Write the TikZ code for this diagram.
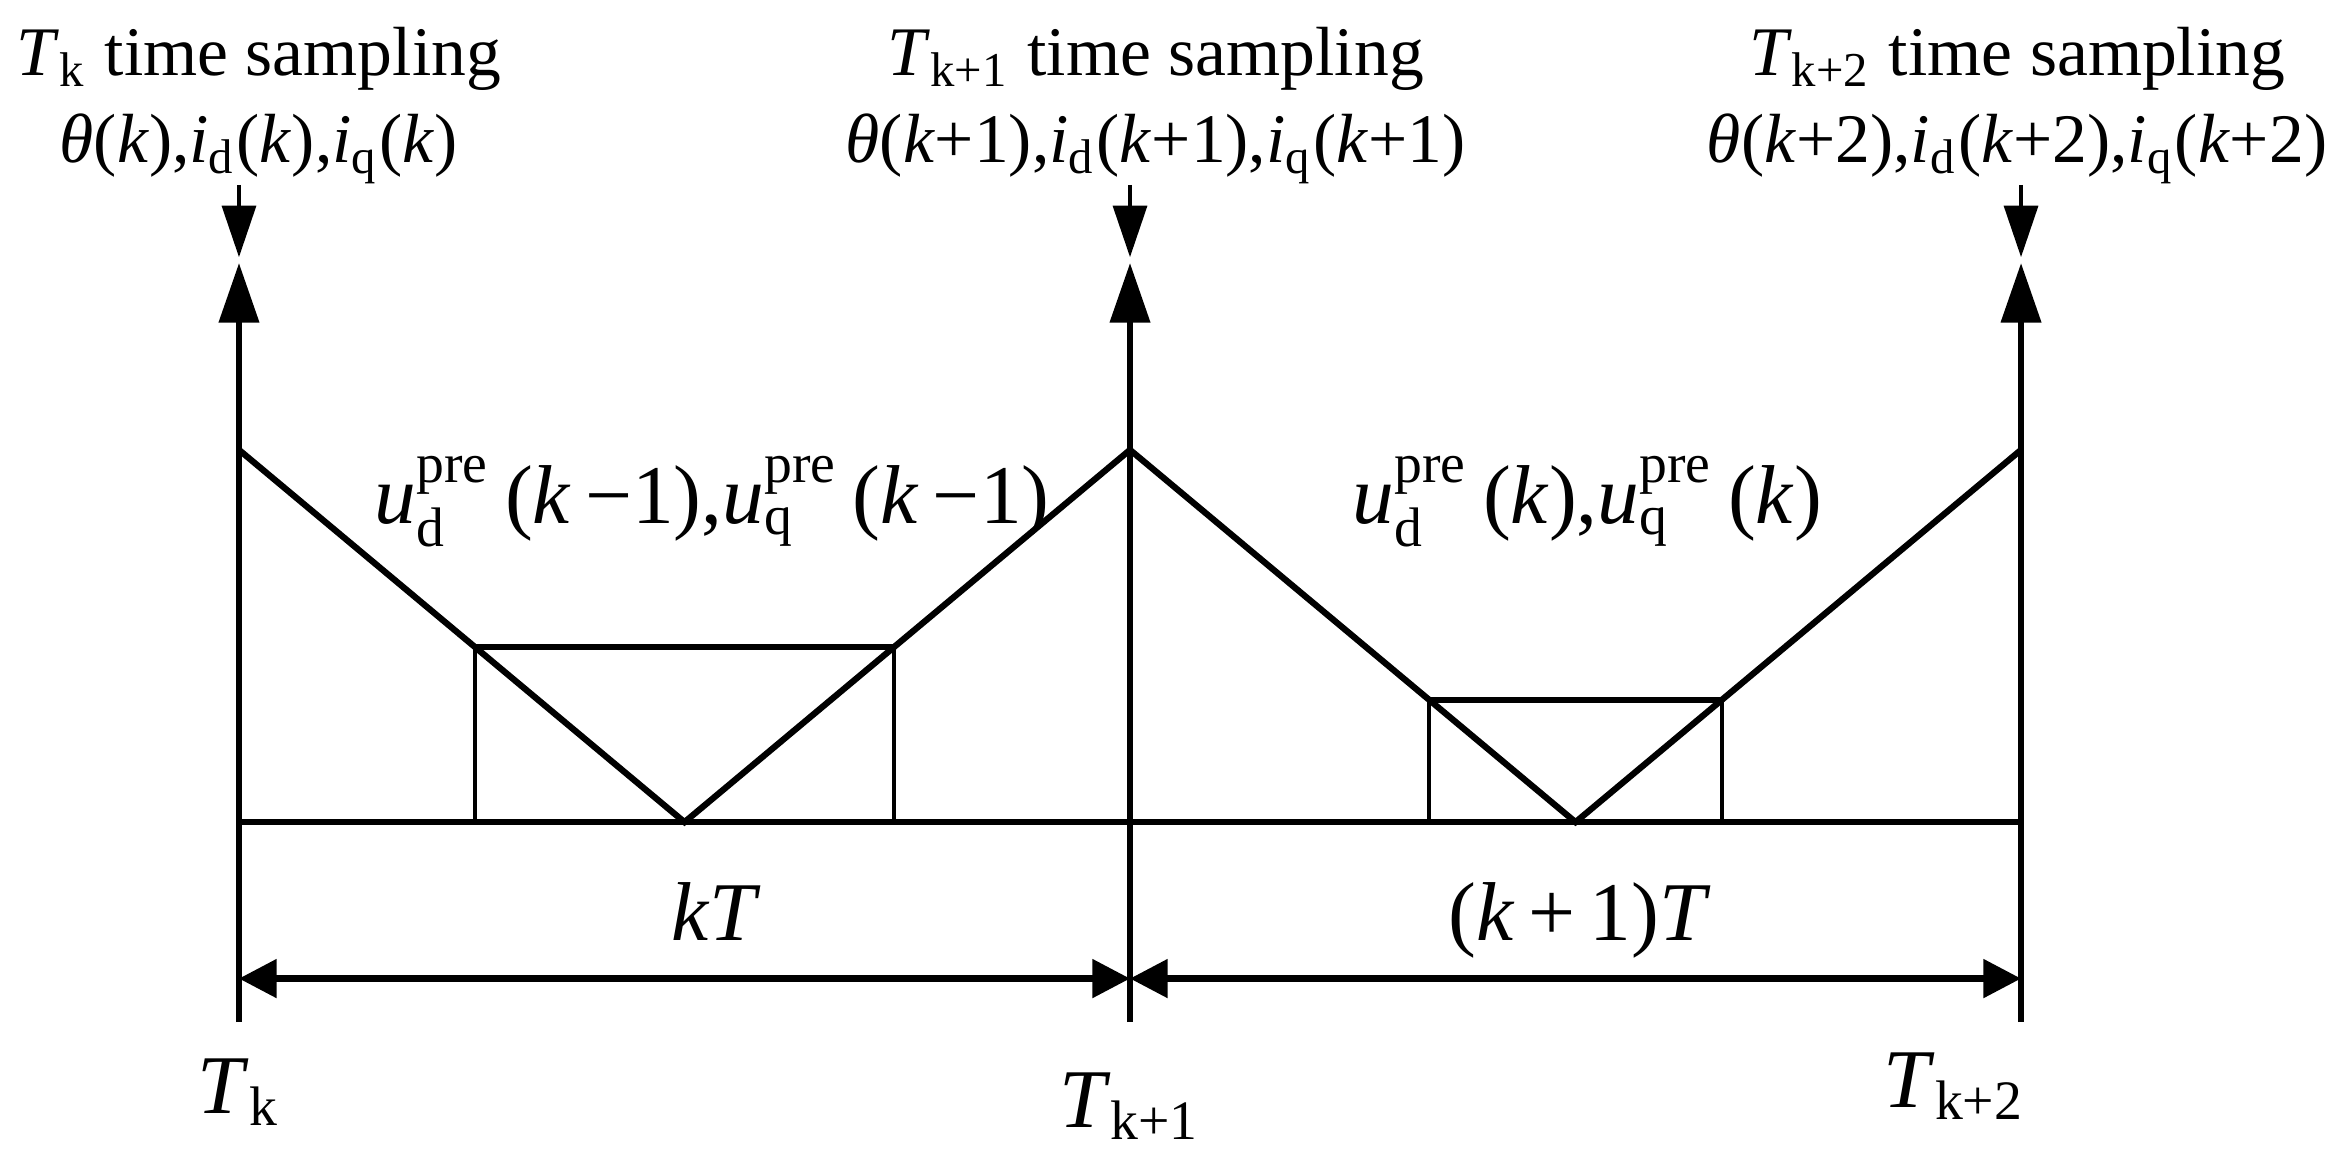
\documentclass[tikz,border=0pt]{standalone}
\usepackage{amsmath}
\usepackage{fontspec}
\setmainfont{Liberation Serif}
\usetikzlibrary{arrows.meta,calc}

\newcommand{\upre}[1]{$\text{\itshape u}_{\text{#1}}^{\text{pre}}$}

\begin{document}
\begin{tikzpicture}[
    ln/.style={line width=0.9pt},
    upline/.style={line width=0.75pt,-{Triangle[length=0.30cm,width=0.20cm]}},
    dnline/.style={line width=0.6pt,-{Triangle[length=0.26cm,width=0.17cm]}},
    dimline/.style={line width=0.9pt,{Triangle[length=0.19cm,width=0.19cm]}-{Triangle[length=0.19cm,width=0.19cm]}},
    toplbl/.style={font=\fontsize{10}{12}\selectfont,inner sep=0pt,anchor=base},
    lbl/.style={font=\fontsize{12}{14}\selectfont,inner sep=0pt,anchor=base}]
\useasboundingbox (-1.207,-1.692) rectangle (10.601,4.152);

% sampling instants
\coordinate (b0) at (0,-1.01);   \coordinate (t0) at (0,2.823);
\coordinate (b1) at (4.5,-1.01); \coordinate (t1) at (4.5,2.823);
\coordinate (b2) at (9,-1.01);   \coordinate (t2) at (9,2.823);
\draw[upline] (b0) -- (t0);
\draw[upline] (b1) -- (t1);
\draw[upline] (b2) -- (t2);

% sampling labels
\node[toplbl] (tsm0) at (0.1,3.77) {\textit{T}\textsubscript{k} time sampling};
\node[toplbl] (val0) at (0.1,3.33) {\textit{θ}(\textit{k}),\textit{i}\textsubscript{d}(\textit{k}),\textit{i}\textsubscript{q}(\textit{k})};
\node[toplbl] (tsm1) at (4.63,3.77) {\textit{T}\textsubscript{k+1} time sampling};
\node[toplbl] (val1) at (4.63,3.33) {\textit{θ}(\textit{k}+1),\textit{i}\textsubscript{d}(\textit{k}+1),\textit{i}\textsubscript{q}(\textit{k}+1)};
\node[toplbl] (tsm2) at (8.98,3.77) {\textit{T}\textsubscript{k+2} time sampling};
\node[toplbl] (val2) at (8.98,3.33) {\textit{θ}(\textit{k}+2),\textit{i}\textsubscript{d}(\textit{k}+2),\textit{i}\textsubscript{q}(\textit{k}+2)};
\coordinate (d0) at (0,2.853);
\coordinate (d1) at (4.5,2.853);
\coordinate (d2) at (9,2.853);
\draw[dnline] (val0.south -| d0) -- (d0);
\draw[dnline] (val1.south -| d1) -- (d1);
\draw[dnline] (val2.south -| d2) -- (d2);

% carrier
\coordinate (o0) at (0,0); \coordinate (o2) at (9,0);
\coordinate (p0) at (0,1.88); \coordinate (p1) at (4.5,1.88); \coordinate (p2) at (9,1.88);
\coordinate (v1) at (2.25,0); \coordinate (v2) at (6.75,0);
\draw[ln] (o0) -- (o2);
\draw[ln] (p0) -- (v1) -- (p1) -- (v2) -- (p2);

% voltage vectors
\draw[ln] ($(v1)!0.47!(p0)$) coordinate (r1a) -- ($(v1)!0.47!(p1)$) coordinate (r1b);
\draw[line width=0.6pt] (r1a) -- (r1a |- o0) (r1b) -- (r1b |- o0);
\draw[ln] ($(v2)!0.328!(p1)$) coordinate (r2a) -- ($(v2)!0.328!(p2)$) coordinate (r2b);
\draw[line width=0.6pt] (r2a) -- (r2a |- o0) (r2b) -- (r2b |- o0);
\node[lbl] (uk0) at (2.39,1.51) {\upre{d}\,(\textit{k}\,−1),\upre{q}\,(\textit{k}\,−1)};
\node[lbl] (uk1) at (6.81,1.51) {\upre{d}\,(\textit{k}),\upre{q}\,(\textit{k})};

% periods
\coordinate (m0) at (0,-0.79); \coordinate (m1) at (4.5,-0.79); \coordinate (m2) at (9,-0.79);
\draw[dimline] (m0) -- (m1);
\draw[dimline] (m1) -- (m2);
\node[lbl] (per0) at (2.41,-0.6) {\textit{kT}};
\node[lbl] (per1) at (6.77,-0.6) {(\textit{k}\,+\,1)\textit{T}};

% instants
\node[lbl] (tk0) at (0,-1.47) {\textit{T}\textsubscript{k}};
\node[lbl] (tk1) at (4.5,-1.54) {\textit{T}\textsubscript{k+1}};
\node[lbl,anchor=base east] (tk2) at (9.03,-1.44) {\textit{T}\textsubscript{k+2}};
\end{tikzpicture}
\end{document}
